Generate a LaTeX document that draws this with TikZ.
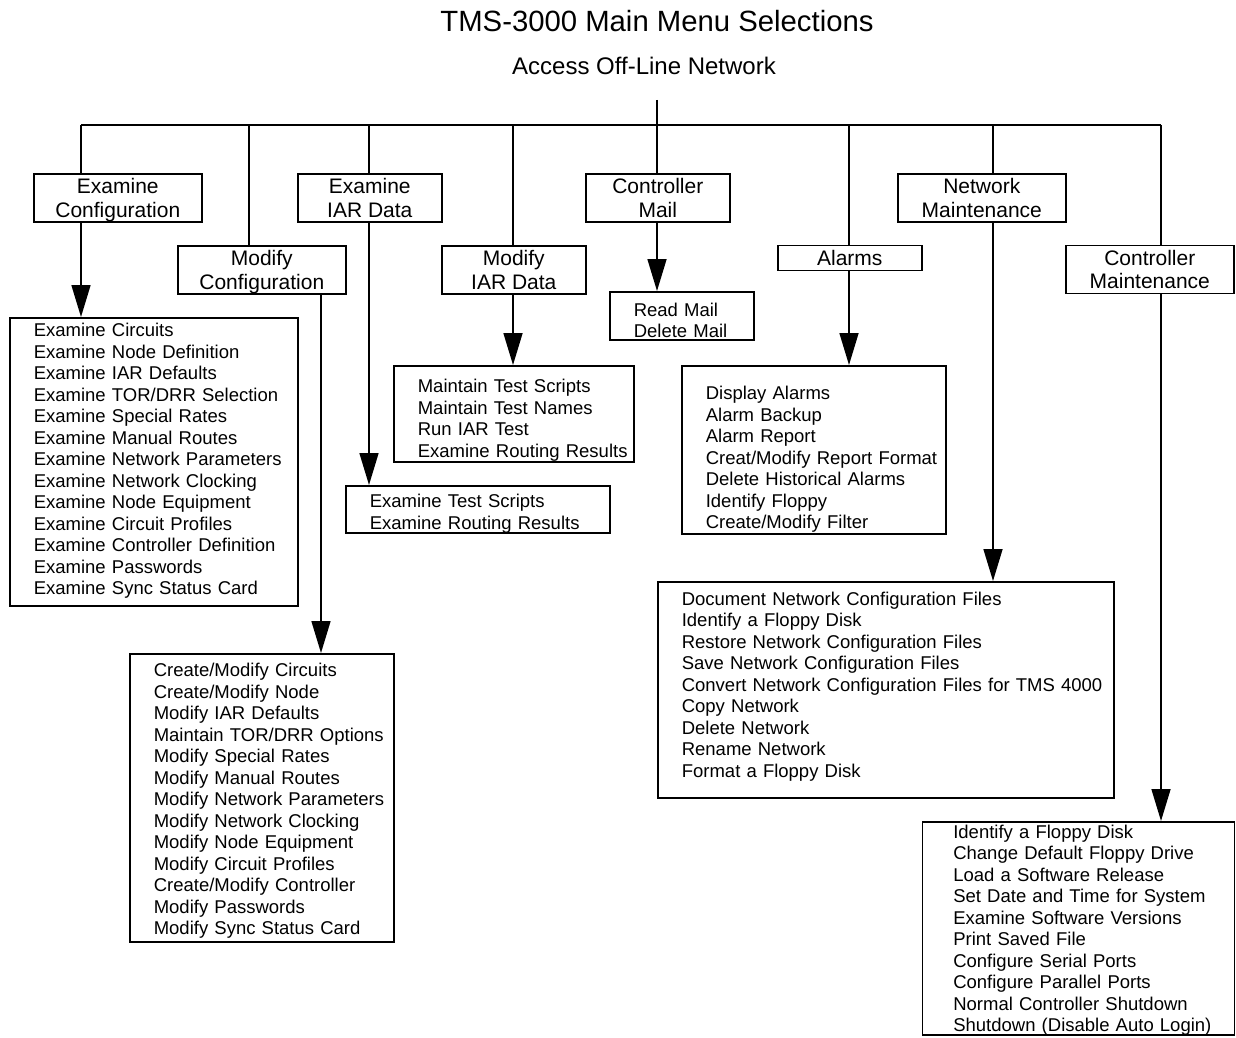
\documentclass[tikz,border=0pt]{standalone}
\usepackage{fontspec}
\setmainfont{Liberation Sans}
\usetikzlibrary{arrows.meta,positioning}

\begin{document}
\begin{tikzpicture}[x=1pt,y=-1pt,
	  every node/.style={align=center,inner sep=0pt},
	  heading/.style={font=\fontsize{29.3}{32}\selectfont},
	  access/.style={font=\fontsize{24}{26}\selectfont},
	  menu/.style={draw,line width=1.6pt,anchor=north west,font=\fontsize{21}{23.5}\selectfont,
	    text height=43.5pt,text depth=4.5pt},
	  indent/.style={execute at begin node={\leftskip=#1}},
	  items/.style={draw,line width=1.6pt,anchor=north west,align=left,
	    font=\fontsize{18.5}{21.5}\selectfont,indent=24pt},
	  link/.style={line width=1.6pt},
	  to/.style={-{Triangle[length=32pt,width=19pt]},line width=1.6pt}]

	  \useasboundingbox (0,0) rectangle (1236,1038);

	  \node[heading,anchor=base] (title) at (657,32) {TMS-3000 Main Menu Selections};
	  \node[access,anchor=base] (offline) at (644,75) {Access Off-Line Network};

	  % Position the menu boxes
	  \node[menu,minimum width=168pt] (exconf) at (33,173) {Examine\\Configuration};
	  \node[menu,minimum width=168pt] (modconf) at (177,245) {Modify\\Configuration};
	  \node[menu,minimum width=144pt] (exiar) at (297,173) {Examine\\IAR Data};
	  \node[menu,minimum width=144pt] (modiar) at (441,245) {Modify\\IAR Data};
	  \node[menu,minimum width=144pt] (ctlmail) at (585,173) {Controller\\Mail};
	  \node[menu,minimum width=144pt,text height=20.5pt] (alarms) at (777,244.5) {Alarms};
	  \node[menu,minimum width=168pt] (netmaint) at (897,173) {Network\\Maintenance};
	  \node[menu,minimum width=168pt] (ctlmaint) at (1065,244.5) {Controller\\Maintenance};

	  % Position the selection lists
	  \node[items,text width=288pt,text height=19pt,text depth=269pt] (exconflist) at (9,317) {Examine Circuits\\Examine Node Definition\\Examine IAR Defaults\\Examine TOR/DRR Selection\\Examine Special Rates\\Examine Manual Routes\\Examine Network Parameters\\Examine Network Clocking\\Examine Node Equipment\\Examine Circuit Profiles\\Examine Controller Definition\\Examine Passwords\\Examine Sync Status Card};
	  \node[items,text width=264pt,text height=23pt,text depth=265pt] (modconflist) at (129,653) {Create/Modify Circuits\\Create/Modify Node\\Modify IAR Defaults\\Maintain TOR/DRR Options\\Modify Special Rates\\Modify Manual Routes\\Modify Network Parameters\\Modify Network Clocking\\Modify Node Equipment\\Modify Circuit Profiles\\Create/Modify Controller\\Modify Passwords\\Modify Sync Status Card};
	  \node[items,text width=264pt,text height=22pt,text depth=25pt] (exiarlist) at (345,485) {Examine Test Scripts\\Examine Routing Results};
	  \node[items,text width=240pt,text height=27pt,text depth=69pt] (modiarlist) at (393,365) {Maintain Test Scripts\\Maintain Test Names\\Run IAR Test\\Examine Routing Results};
	  \node[items,text width=144pt,text height=24.5pt,text depth=23.5pt] (maillist) at (609,291) {Read Mail\\Delete Mail};
	  \node[items,text width=264pt,text height=34pt,text depth=134pt] (alarmlist) at (681,365) {Display Alarms\\Alarm Backup\\Alarm Report\\Creat/Modify Report Format\\Delete Historical Alarms\\Identify Floppy\\Create/Modify Filter};
	  \node[items,text width=456pt,text height=23.5pt,text depth=192.5pt] (netlist) at (657,581) {Document Network Configuration Files\\Identify a Floppy Disk\\Restore Network Configuration Files\\Save Network Configuration Files\\Convert Network Configuration Files for TMS 4000\\Copy Network\\Delete Network\\Rename Network\\Format a Floppy Disk};
	  \node[items,indent=31pt,text width=312pt,text height=16.5pt,text depth=196.5pt] (ctllist) at (921.5,821) {Identify a Floppy Disk\\Change Default Floppy Drive\\Load a Software Release\\Set Date and Time for System\\Examine Software Versions\\Print Saved File\\Configure Serial Ports\\Configure Parallel Ports\\Normal Controller Shutdown\\Shutdown (Disable Auto Login)};

	  % Bus and drops
	  \coordinate (root) at (657,100);
	  \coordinate (dexconf) at (81,125);
	  \coordinate (dmodconf) at (249,125);
	  \coordinate (dexiar) at (369,125);
	  \coordinate (dmodiar) at (513,125);
	  \coordinate (dctlmail) at (657,125);
	  \coordinate (dalarms) at (849,125);
	  \coordinate (dnetmaint) at (993,125);
	  \coordinate (dctlmaint) at (1161,125);
	  \coordinate (emodconf) at (321,293);

	  \draw[link] (root) -- (dctlmail);
	  \draw[link] (dexconf) -- (dctlmaint);
	  \draw[link] (dexconf) -- (dexconf |- exconf.north);
	  \draw[link] (dmodconf) -- (dmodconf |- modconf.north);
	  \draw[link] (dexiar) -- (dexiar |- exiar.north);
	  \draw[link] (dmodiar) -- (dmodiar |- modiar.north);
	  \draw[link] (dctlmail) -- (dctlmail |- ctlmail.north);
	  \draw[link] (dalarms) -- (dalarms |- alarms.north);
	  \draw[link] (dnetmaint) -- (dnetmaint |- netmaint.north);
	  \draw[link] (dctlmaint) -- (dctlmaint |- ctlmaint.north);

	  \draw[to] (dexconf |- exconf.south) -- (dexconf |- exconflist.north);
	  \draw[to] (emodconf |- modconf.south) -- (emodconf |- modconflist.north);
	  \draw[to] (dexiar |- exiar.south) -- (dexiar |- exiarlist.north);
	  \draw[to] (dmodiar |- modiar.south) -- (dmodiar |- modiarlist.north);
	  \draw[to] (dctlmail |- ctlmail.south) -- (dctlmail |- maillist.north);
	  \draw[to] (dalarms |- alarms.south) -- (dalarms |- alarmlist.north);
	  \draw[to] (dnetmaint |- netmaint.south) -- (dnetmaint |- netlist.north);
	  \draw[to] (dctlmaint |- ctlmaint.south) -- (dctlmaint |- ctllist.north);
\end{tikzpicture}
\end{document}
